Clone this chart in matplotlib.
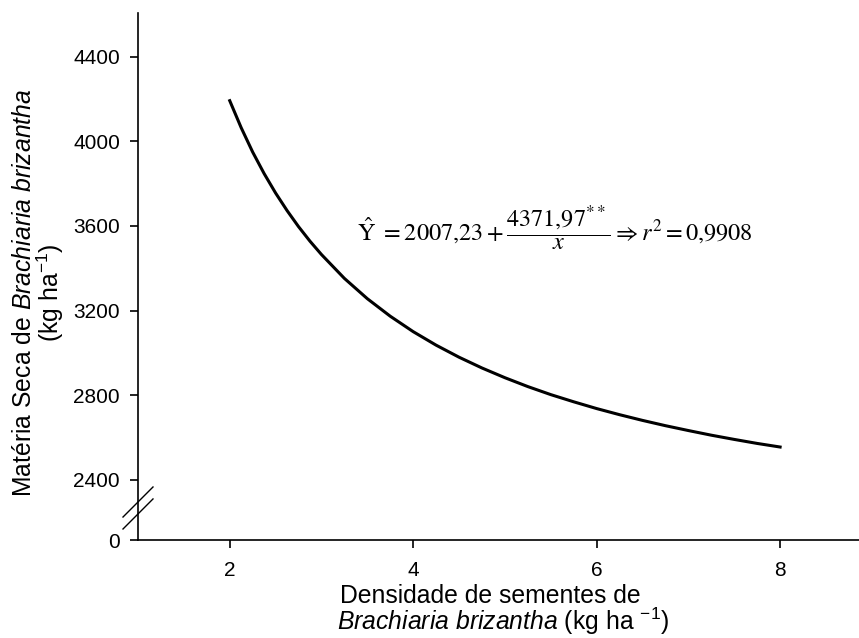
import numpy as np
import matplotlib
matplotlib.use("Agg")
import matplotlib.pyplot as plt

# values
densidade = [2.00, 2.125, 2.25, 2.375, 2.50, 2.625, 2.75, 2.875, 3.00, 3.25, 3.50, 3.75,
             4.00, 4.25, 4.50, 4.75, 5.00, 5.25, 5.50, 5.75, 6.00, 6.25, 6.50, 6.75,
             7.00, 7.25, 7.50, 7.75, 8.00]
materia_seca = [4193, 4065, 3950, 3848, 3756, 3673, 3597, 3528, 3465, 3352, 3256, 3173,
                3100, 3036, 2979, 2928, 2882, 2840, 2802, 2768, 2736, 2707, 2680, 2655,
                2632, 2610, 2590, 2571, 2554]
xticks = [2, 4, 6, 8]
yticks = [0, 2400, 2800, 3200, 3600, 4000, 4400]

plt.rcParams['font.family'] = ['Liberation Sans', 'DejaVu Sans']
plt.rcParams['mathtext.fontset'] = 'custom'
plt.rcParams['mathtext.rm'] = 'Liberation Sans'
plt.rcParams['mathtext.it'] = 'Liberation Sans:italic'

BREAK = 2400
K = 286 / 2400  # squeeze 0..2400 into a short segment


def fwd(y):
    y = np.asarray(y, dtype=float)
    return np.where(y >= BREAK, y, BREAK - (BREAK - y) * K)


def inv(y):
    y = np.asarray(y, dtype=float)
    return np.where(y >= BREAK, y, BREAK - (BREAK - y) / K)


fig = plt.figure(figsize=(8.59, 6.38), dpi=100)
ax = fig.add_axes([138 / 859, 98 / 638, 721 / 859, 527 / 638])

ax.plot(densidade, materia_seca, color='black', lw=2.2)

ax.set_yscale('function', functions=(fwd, inv))
ax.set_ylim(0, 4608)
ax.set_xlim(1.0, 8.86)
ax.set_xticks(xticks)
ax.set_yticks(yticks)
ax.set_yticklabels([str(t) for t in yticks])
ax.minorticks_off()

for s in ['top', 'right']:
    ax.spines[s].set_visible(False)
for s in ['left', 'bottom']:
    ax.spines[s].set_linewidth(1.2)
ax.tick_params(axis='both', direction='out', length=6, width=1.2, labelsize=15)
ax.tick_params(axis='x', pad=9)
ax.tick_params(axis='y', pad=7)

# break marks on y axis
for y0 in (0.0436, 0.0209):
    ax.plot([-0.0208, 0.0208], [y0, y0 + 0.057], color='black', lw=1.0,
            transform=ax.transAxes, clip_on=False)

ax.text(0.578, 0.567,
        r'$\hat{\mathrm{Y}}\ = 2007{,}23 + \dfrac{4371{,}97^{**}}{x} \Rightarrow r^2 = 0{,}9908$',
        transform=ax.transAxes, ha='center', va='baseline', fontsize=17.5,
        math_fontfamily='stix')

# axis titles
fig.text(340 / 859, 1 - 603 / 638, 'Densidade de sementes de', ha='left',
         va='baseline', fontsize=17.8)
fig.text(337 / 859, 1 - 630 / 638,
         r'$\mathit{Brachiaria\ brizantha}$ (kg ha $^{-1}$)', ha='left',
         va='baseline', fontsize=17.8)
fig.text(24 / 859, 1 - 293 / 638,
         r'Matéria Seca de $\mathit{Brachiaria\ brizantha}$', rotation=90,
         ha='center', va='center', fontsize=17.8)
fig.text(50 / 859, 1 - 293 / 638, r'(kg ha$^{-1}$)', rotation=90,
         ha='center', va='center', fontsize=17.8)

fig.savefig('out.png', dpi=100)
